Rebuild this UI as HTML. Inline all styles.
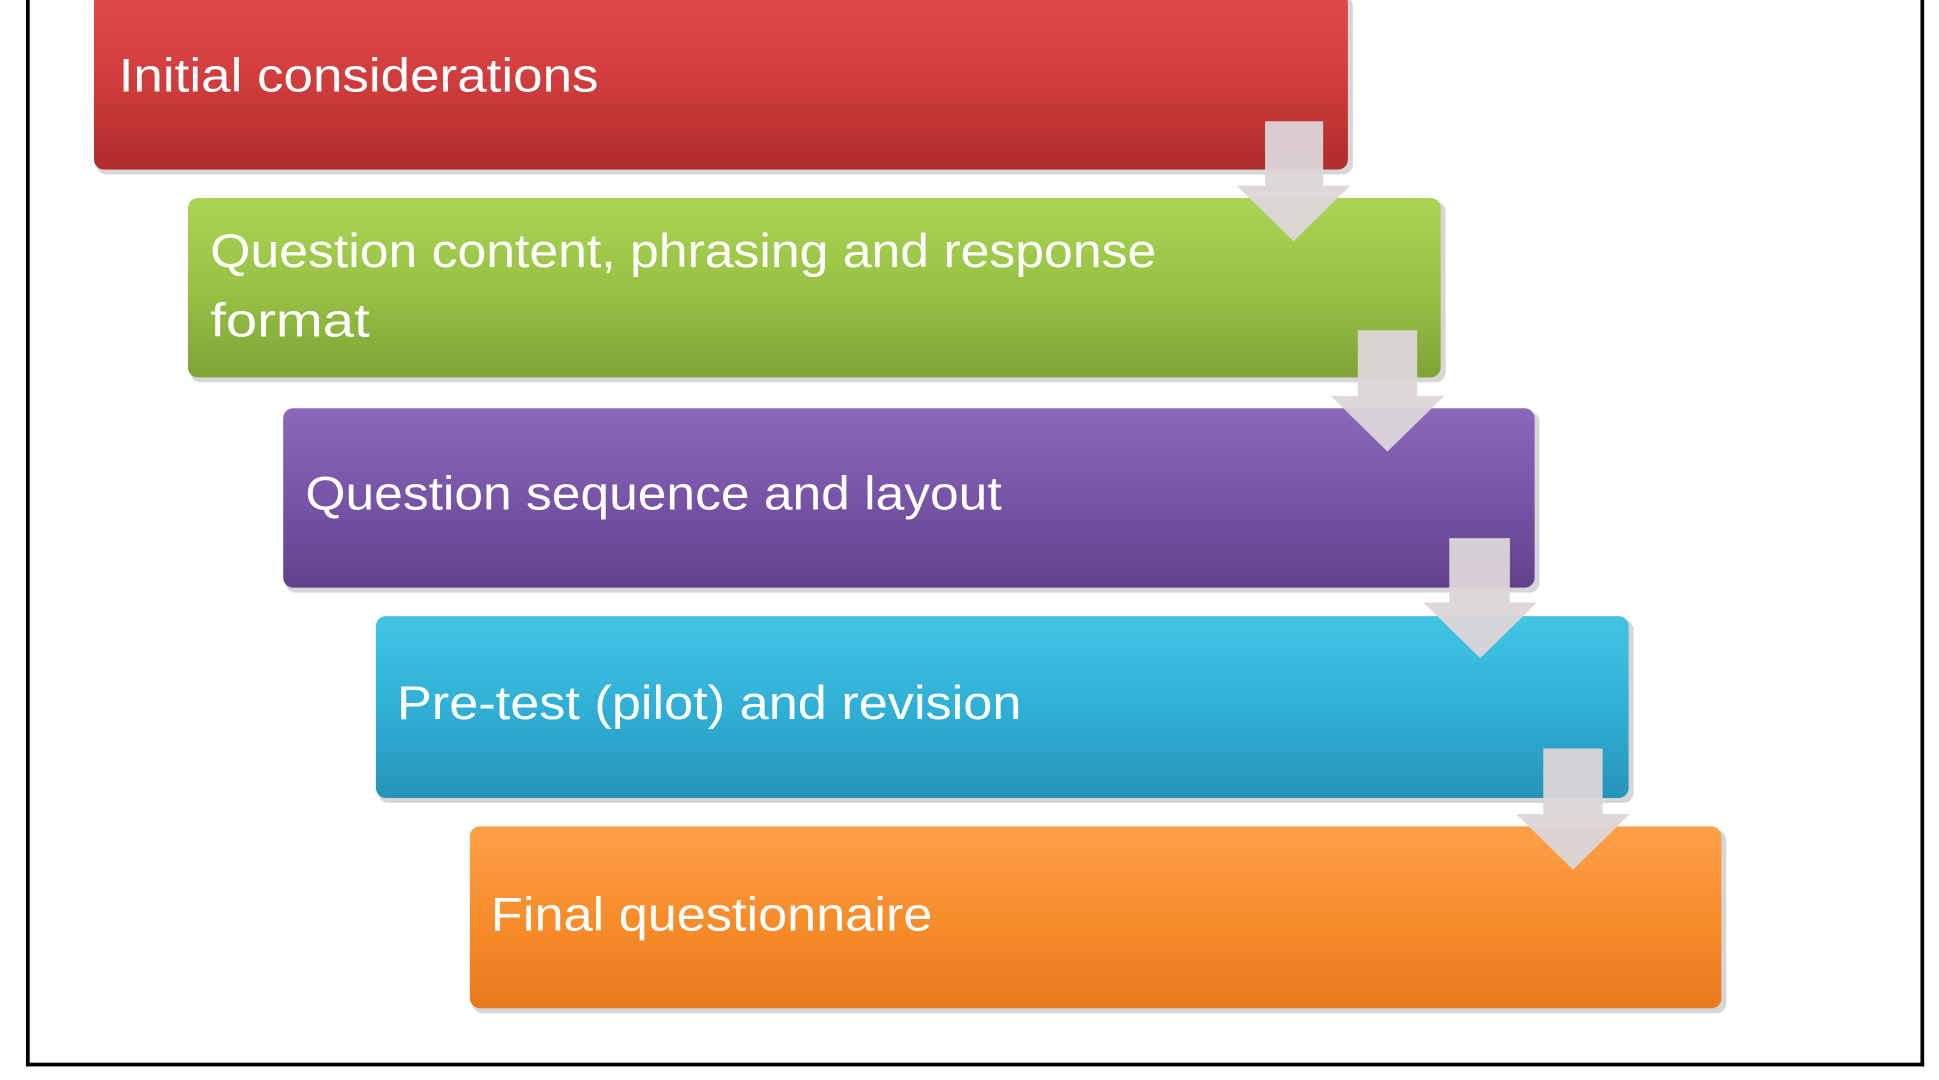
<!DOCTYPE html>
<html><head><meta charset="utf-8"><style>
html,body{margin:0;padding:0;background:#fff;}
svg{display:block;}
text{font-family:"Liberation Sans",sans-serif;fill:#fff;}
</style></head><body>
<svg width="1939" height="1080" viewBox="0 0 1568 873" preserveAspectRatio="none">
<defs>
<linearGradient id="r" x1="0" y1="0" x2="0" y2="1"><stop offset="0" stop-color="#e24a4a"/><stop offset="0.5" stop-color="#d03c3c"/><stop offset="1" stop-color="#b02c2c"/></linearGradient>
<linearGradient id="g" x1="0" y1="0" x2="0" y2="1"><stop offset="0" stop-color="#acd454"/><stop offset="0.5" stop-color="#98c245"/><stop offset="1" stop-color="#7ea435"/></linearGradient>
<linearGradient id="p" x1="0" y1="0" x2="0" y2="1"><stop offset="0" stop-color="#8c68bc"/><stop offset="0.5" stop-color="#7854a6"/><stop offset="1" stop-color="#62428c"/></linearGradient>
<linearGradient id="b" x1="0" y1="0" x2="0" y2="1"><stop offset="0" stop-color="#44c4e4"/><stop offset="0.5" stop-color="#30b0d6"/><stop offset="1" stop-color="#2694b8"/></linearGradient>
<linearGradient id="o" x1="0" y1="0" x2="0" y2="1"><stop offset="0" stop-color="#fca048"/><stop offset="0.5" stop-color="#f88d2c"/><stop offset="1" stop-color="#e87a1c"/></linearGradient>
</defs>
<rect x="0" y="0" width="1568" height="873" fill="#fff"/>
<g fill="#bbb" opacity="0.6">
<rect x="78" y="-3" width="1016" height="144" rx="8"/>
<rect x="154" y="163" width="1015" height="146" rx="8"/>
<rect x="231" y="333" width="1014" height="146" rx="8"/>
<rect x="306" y="501" width="1015" height="148" rx="8"/>
<rect x="382" y="671" width="1014" height="148" rx="8"/>
</g>
<rect x="76" y="-6" width="1014" height="143" rx="8" fill="url(#r)"/>
<rect x="152" y="160" width="1013" height="145" rx="8" fill="url(#g)"/>
<rect x="229" y="330" width="1012" height="145" rx="8" fill="url(#p)"/>
<rect x="304" y="498" width="1013" height="147" rx="8" fill="url(#b)"/>
<rect x="380" y="668" width="1012" height="147" rx="8" fill="url(#o)"/>
<g fill="#dcd6d8" opacity="0.95">
<polygon points="1023,98 1070,98 1070,150 1092,150 1046,195 1000,150 1023,150"/>
<polygon points="1098,267 1146,267 1146,320 1168,320 1122,365 1076,320 1098,320"/>
<polygon points="1172,435 1221,435 1221,487 1243,487 1197,532 1151,487 1172,487"/>
<polygon points="1248,605 1296,605 1296,658 1318,658 1272,703 1226,658 1248,658"/>
</g>
<text x="96" y="74" font-size="38" textLength="388" lengthAdjust="spacingAndGlyphs">Initial considerations</text>
<text x="170" y="216" font-size="38" textLength="765" lengthAdjust="spacingAndGlyphs">Question content, phrasing and response</text>
<text x="170" y="272" font-size="38" textLength="129" lengthAdjust="spacingAndGlyphs">format</text>
<text x="247" y="412" font-size="38" textLength="563" lengthAdjust="spacingAndGlyphs">Question sequence and layout</text>
<text x="321" y="581" font-size="38" textLength="505" lengthAdjust="spacingAndGlyphs">Pre-test (pilot) and revision</text>
<text x="397" y="752" font-size="38" textLength="357" lengthAdjust="spacingAndGlyphs">Final questionnaire</text>
<g fill="#000">
<rect x="21" y="0" width="3" height="862"/>
<rect x="1553" y="0" width="3" height="862"/>
<rect x="21" y="859" width="1535" height="3"/>
</g>
</svg>
</body></html>
